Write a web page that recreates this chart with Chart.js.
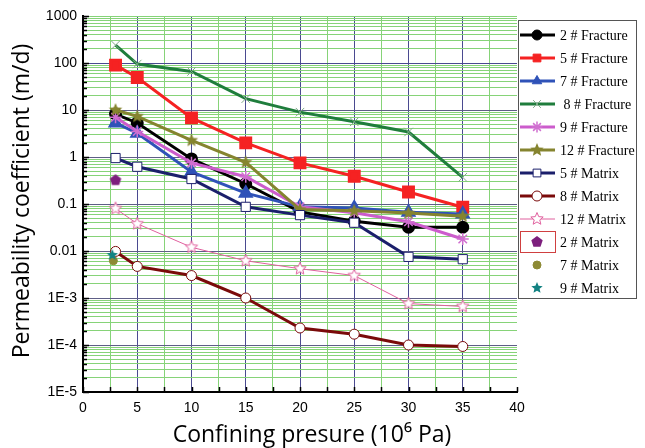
<!DOCTYPE html>
<html>
<head>
  <meta charset="utf-8">
  <title>Permeability coefficient vs confining pressure</title>
  <script src="https://cdn.jsdelivr.net/npm/chart.js"></script>
  <style>
    body { margin: 0; background: #fff; }
    canvas { display: block; }
  </style>
</head>
<body>
  <canvas id="chart" width="645" height="448"></canvas>
  <script>
    // confining pressure (10^6 Pa)
    const pressure = [3, 5, 10, 15, 20, 25, 30, 35];

    // permeability coefficient (m/d)
    const fracture2 = [8.2, 5.3, 0.91, 0.27, 0.068, 0.043, 0.032, 0.032];
    const fracture5 = [90, 49, 6.8, 2.0, 0.75, 0.39, 0.18, 0.085];
    const fracture7 = [5.3, 3.2, 0.48, 0.17, 0.087, 0.082, 0.067, 0.061];
    const fracture8 = [240, 95, 66, 17.4, 9.0, 5.6, 3.4, 0.37];
    const fracture9 = [7.0, 3.5, 0.75, 0.38, 0.087, 0.065, 0.042, 0.018];
    const fracture12 = [10, 7.3, 2.25, 0.77, 0.076, 0.072, 0.064, 0.055];
    const matrix5 = [0.95, 0.62, 0.34, 0.087, 0.058, 0.04, 0.0075, 0.0067];
    const matrix8 = [0.0098, 0.0047, 0.003, 0.001, 0.00023, 0.00017, 0.0001, 0.000093];
    const matrix12 = [0.08, 0.038, 0.012, 0.0062, 0.0042, 0.003, 0.00076, 0.00066];
    const matrix2 = [{ x: 3, y: 0.32 }];
    const matrix7 = [{ x: 2.8, y: 0.0062 }];
    const matrix9 = [{ x: 2.7, y: 0.0082 }];

    const xTicks = [0, 2.5, 5, 7.5, 10, 12.5, 15, 17.5, 20, 22.5, 25, 27.5, 30, 32.5, 35, 37.5, 40];
    const xLabels = ["0", "", "5", "", "10", "", "15", "", "20", "", "25", "", "30", "", "35", "", "40"];
    const yDecades = [1e-5, 1e-4, 1e-3, 0.01, 0.1, 1, 10, 100, 1000];
    const yLabels = ["1E-5", "1E-4", "1E-3", "0.01", "0.1", "1", "10", "100", "1000"];
    const xTitle = "Confining presure (10\u2076 Pa)";
    const yTitle = "Permeability coefficient (m/d)";

    const GREEN = "#86d378";
    const NAVY = "#4a4a90";
    const GREY = "#5e5e86";
    const TITLE_FONT = "23px 'Open Sans', sans-serif";

    // small canvases for marker shapes chart.js does not have
    function makeShape(kind, r, fill, stroke, lw) {
      const c = document.createElement("canvas");
      const s = Math.ceil(2 * r + lw + 2);
      c.width = c.height = s;
      const g = c.getContext("2d");
      const cx = s / 2;
      g.beginPath();
      const n = kind === "pentagon" ? 5 : 10;
      for (let i = 0; i < n; i++) {
        const a = -Math.PI / 2 + i * 2 * Math.PI / n;
        const rr = kind === "star" && i % 2 ? r * 0.45 : r;
        const px = cx + rr * Math.cos(a), py = cx + rr * Math.sin(a);
        i ? g.lineTo(px, py) : g.moveTo(px, py);
      }
      g.closePath();
      g.fillStyle = fill;
      g.fill();
      if (lw) { g.lineWidth = lw; g.strokeStyle = stroke; g.stroke(); }
      return c;
    }

    const xy = (arr) => arr.map((v, i) => ({ x: pressure[i], y: v }));

    const datasets = [
      { label: "2 # Fracture", data: xy(fracture2), borderColor: "#000", borderWidth: 3,
        pointStyle: "circle", pointRadius: 5, pointBackgroundColor: "#000", pointBorderColor: "#000" },
      { label: "5 # Fracture", data: xy(fracture5), borderColor: "#f52222", borderWidth: 3,
        pointStyle: "rect", pointRadius: 7, pointBackgroundColor: "#f52222", pointBorderColor: "#f52222" },
      { label: "7 # Fracture", data: xy(fracture7), borderColor: "#2f52b8", borderWidth: 3,
        pointStyle: "triangle", pointRadius: 6, pointBackgroundColor: "#2f52b8", pointBorderColor: "#2f52b8" },
      { label: " 8 # Fracture", data: xy(fracture8), borderColor: "#1f7d3c", borderWidth: 3,
        pointStyle: "crossRot", pointRadius: 6, pointBorderWidth: 1, pointBorderColor: "#7fa888" },
      { label: "9 # Fracture", data: xy(fracture9), borderColor: "#cc5ccc", borderWidth: 3,
        pointStyle: "star", pointRadius: 6, pointBorderWidth: 1.5, pointBorderColor: "#d070d0" },
      { label: "12 # Fracture", data: xy(fracture12), borderColor: "#85842f", borderWidth: 3,
        pointStyle: makeShape("star", 7, "#85842f", "#85842f", 0), pointRadius: 6 },
      { label: "5 # Matrix", data: xy(matrix5), borderColor: "#1b1f6b", borderWidth: 3,
        pointStyle: "rect", pointRadius: 6.5, pointBackgroundColor: "#fff", pointBorderColor: "#1b1f6b", pointBorderWidth: 1 },
      { label: "8 # Matrix", data: xy(matrix8), borderColor: "#7a0a0a", borderWidth: 3,
        pointStyle: "circle", pointRadius: 5, pointBackgroundColor: "#fff", pointBorderColor: "#7a0a0a", pointBorderWidth: 1 },
      { label: "12 # Matrix", data: xy(matrix12), borderColor: "#e0609e", borderWidth: 1,
        pointStyle: makeShape("star", 6.5, "#fff", "#e0609e", 1), pointRadius: 6 },
      { label: "2 # Matrix", data: matrix2, showLine: false,
        pointStyle: makeShape("pentagon", 6, "#7d1f7d", "#7d1f7d", 0), pointRadius: 6 },
      { label: "7 # Matrix", data: matrix7, showLine: false,
        pointStyle: "circle", pointRadius: 4, pointBackgroundColor: "#8d8a35", pointBorderColor: "#8d8a35" },
      { label: "9 # Matrix", data: matrix9, showLine: false,
        pointStyle: makeShape("star", 6, "#128282", "#128282", 0), pointRadius: 6 },
    ];
    datasets.forEach((d, i) => { d.order = -i; d.tension = 0; });

    // inward tick marks on both axes
    const innerTicks = {
      id: "innerTicks",
      beforeDatasetsDraw(chart) {
        const { ctx, chartArea: a, scales } = chart;
        ctx.save();
        ctx.strokeStyle = "#000";
        ctx.lineWidth = 1.5;
        ctx.beginPath();
        for (const t of scales.y.ticks) {
          const py = Math.round(scales.y.getPixelForValue(t.value)) + 0.5;
          const len = yDecades.includes(t.value) ? 6 : 4;
          ctx.moveTo(a.left, py); ctx.lineTo(a.left + len, py);
        }
        for (const t of scales.x.ticks) {
          const px = Math.round(scales.x.getPixelForValue(t.value)) + 0.5;
          ctx.moveTo(px, a.bottom); ctx.lineTo(px, a.bottom - 5);
        }
        ctx.stroke();
        ctx.restore();
      }
    };

    // axis titles placed where the figure has them
    const axisTitles = {
      id: "axisTitles",
      afterDraw(chart) {
        const { ctx } = chart;
        ctx.save();
        ctx.fillStyle = "#000";
        ctx.font = TITLE_FONT;
        ctx.textAlign = "center";
        ctx.textBaseline = "middle";
        ctx.fillText(xTitle, 312, 435);
        ctx.translate(22, 201);
        ctx.rotate(-Math.PI / 2);
        ctx.fillText(yTitle, 0, 0);
        ctx.restore();
      }
    };

    // boxed legend at the right, as in the figure
    const boxLegend = {
      id: "boxLegend",
      afterDraw(chart) {
        const { ctx } = chart;
        const left = 518, top = 20, right = 636, bottom = 298;
        ctx.save();
        ctx.fillStyle = "#fff";
        ctx.fillRect(left, top, right - left, bottom - top);
        ctx.strokeStyle = "#555";
        ctx.lineWidth = 1;
        ctx.strokeRect(left + 0.5, top + 0.5, right - left, bottom - top);
        ctx.font = "14px 'Liberation Serif', 'Times New Roman', serif";
        ctx.textBaseline = "middle";
        chart.data.datasets.forEach((d, i) => {
          const y = 35 + i * 23;
          const cx = 537;
          if (d.showLine !== false) {
            ctx.strokeStyle = d.borderColor;
            ctx.lineWidth = d.borderWidth;
            ctx.beginPath();
            ctx.moveTo(520, y); ctx.lineTo(555, y);
            ctx.stroke();
          }
          if (d.label === "2 # Matrix") {
            ctx.strokeStyle = "#d04040";
            ctx.lineWidth = 1;
            ctx.strokeRect(520.5, y - 10.5, 35, 21);
          }
          ctx.fillStyle = d.pointBackgroundColor || "#000";
          ctx.strokeStyle = d.pointBorderColor || "#000";
          ctx.lineWidth = d.pointBorderWidth || 1;
          Chart.helpers.drawPoint(ctx, {
            pointStyle: d.pointStyle,
            radius: Math.min(d.pointRadius, 5.5),
            borderWidth: d.pointBorderWidth || 1,
            rotation: 0
          }, cx, y);
          ctx.fillStyle = "#000";
          ctx.fillText(d.label, 560, y + 1);
        });
        ctx.restore();
      }
    };

    new Chart(document.getElementById("chart"), {
      type: "line",
      data: { datasets },
      plugins: [innerTicks, axisTitles, boxLegend],
      options: {
        responsive: false,
        animation: false,
        layout: { padding: { top: 16, right: 128, left: 0, bottom: 0 } },
        plugins: { legend: { display: false }, tooltip: { enabled: false } },
        scales: {
          x: {
            type: "linear", min: 0, max: 40,
            afterBuildTicks: (s) => { s.ticks = xTicks.map((v) => ({ value: v })); },
            afterFit: (s) => { s.height = 56; },
            ticks: {
              autoSkip: false, maxRotation: 0, padding: 8, color: "#000",
              font: { family: "'Liberation Sans', Arial, sans-serif", size: 14 },
              callback: (v) => xLabels[xTicks.indexOf(v)] ?? ""
            },
            grid: {
              drawTicks: false, lineWidth: 1,
              color: (c) => {
                const v = c.tick && c.tick.value;
                if (v === 0 || v === 40) return "rgba(0,0,0,0)";
                return v % 5 === 0 ? NAVY : GREEN;
              }
            },
            border: { display: true, color: "#000", width: 2 }
          },
          y: {
            type: "logarithmic", min: 1e-5, max: 1000,
            afterBuildTicks: (s) => {
              const t = [];
              for (let e = -5; e <= 3; e++) {
                for (let d = 1; d <= 9; d++) {
                  const v = Number((d * Math.pow(10, e)).toPrecision(3));
                  if (v <= 1000) t.push({ value: v });
                }
              }
              s.ticks = t;
            },
            afterFit: (s) => { s.width = 83; },
            ticks: {
              autoSkip: false, padding: 6, color: "#000",
              font: { family: "'Liberation Sans', Arial, sans-serif", size: 14 },
              callback: (v) => {
                const k = yDecades.indexOf(v);
                return k >= 0 ? yLabels[k] : "";
              }
            },
            grid: {
              drawTicks: false, lineWidth: 1,
              color: (c) => {
                const v = c.tick && c.tick.value;
                if (v === 1000) return GREEN;
                if (v === 100) return NAVY;
                return yDecades.includes(v) ? GREY : GREEN;
              }
            },
            border: { display: true, color: "#000", width: 2 }
          }
        }
      }
    });
  </script>
</body>
</html>
